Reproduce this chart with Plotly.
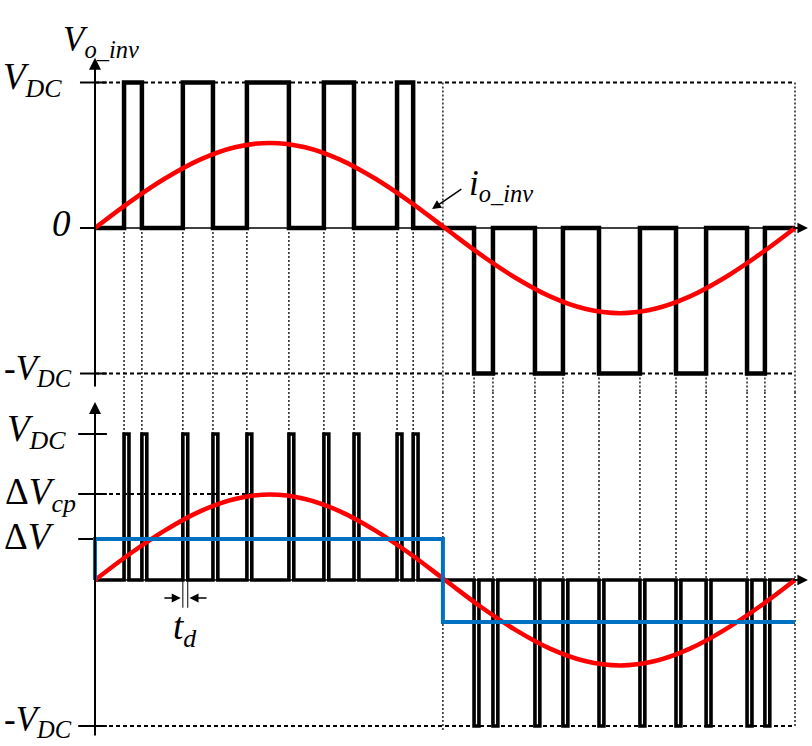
import plotly.graph_objects as go

# ---------------- data (time in ms over one 20 ms period, voltages in p.u. of V_DC) ----------------
t_end = 20.0
t_half = 9.94
pos_edges = [0.83, 1.34, 2.51, 3.37, 4.34, 5.54, 6.54, 7.40, 8.63, 9.09]
pos_levels = [1, 0, 1, 0, 1, 0, 1, 0, 1, 0]
neg_edges = [10.83, 11.37, 12.57, 13.37, 14.40, 15.57, 16.60, 17.46, 18.63, 19.14]
neg_levels = [-1, 0, -1, 0, -1, 0, -1, 0, -1, 0]
td = 0.14
VDC = 1.0
dV_cp = 0.589
dV_pos = 0.281
dV_neg = -0.288
i_t = [0, 1, 2, 3, 4, 5, 6, 7, 8, 9, 10, 11, 12, 13, 14, 15, 16, 17, 18, 19, 20]
i_v = [0, 0.18, 0.34, 0.47, 0.555, 0.585, 0.555, 0.47, 0.34, 0.18, 0,
       -0.18, -0.34, -0.47, -0.555, -0.585, -0.555, -0.47, -0.34, -0.18, 0]

# ---------------- layout constants ----------------
W, H = 812, 746
X_RANGE = [-2.7143, 20.4857]
TOP_DOMAIN = [0.47453, 1.0]
BOT_DOMAIN = [0.0, 0.47453]
TOP_RANGE = [-1.127, 1.567]
BOT_RANGE = [-1.137, 1.2877]
FONT = "Liberation Serif, Times New Roman, serif"
BLACK = "#000000"
RED = "#ff0000"
BLUE = "#0070c0"

fig = go.Figure()

def add_line(x, y, yaxis, color=BLACK, width=2, dash="solid", shape="linear"):
    fig.add_trace(go.Scatter(x=x, y=y, yaxis=yaxis, mode="lines",
                             line=dict(color=color, width=width, dash=dash, shape=shape),
                             hoverinfo="skip", showlegend=False))

def segs(pairs):
    xs, ys = [], []
    for (xa, ya, xb, yb) in pairs:
        xs += [xa, xb, None]
        ys += [ya, yb, None]
    return xs, ys

# ---- vertical dotted guide lines ----
top_pairs, bot_pairs = [], []
for t in pos_edges:
    top_pairs.append((t, 0, t, TOP_RANGE[0]))
    bot_pairs.append((t, BOT_RANGE[1], t, VDC))
for t in neg_edges:
    top_pairs.append((t, -VDC, t, TOP_RANGE[0]))
    bot_pairs.append((t, BOT_RANGE[1], t, 0))
for t in [t_half, t_end]:
    top_pairs.append((t, VDC, t, TOP_RANGE[0]))
bot_pairs.append((t_half, BOT_RANGE[1], t_half, -1.03))
bot_pairs.append((t_end, BOT_RANGE[1], t_end, -VDC))
xs, ys = segs(top_pairs)
add_line(xs, ys, "y", width=1.3, dash="2px,2px")
xs, ys = segs(bot_pairs)
add_line(xs, ys, "y2", width=1.3, dash="2px,2px")

# ---- horizontal dashed reference lines ----
xs, ys = segs([(0, VDC, t_end, VDC), (0, -VDC, t_end, -VDC)])
add_line(xs, ys, "y", width=2, dash="4px,3px")
xs, ys = segs([(0, dV_cp, 5.1, dV_cp), (0, -VDC, t_end, -VDC)])
add_line(xs, ys, "y2", width=2, dash="4px,3px")

# ---- tick marks ----
xs, ys = segs([(-0.43, v, 0.34, v) for v in [VDC, 0, -VDC]])
add_line(xs, ys, "y", width=2)
xs, ys = segs([(-0.48, v, 0.34, v) for v in [VDC, dV_cp, dV_pos, -VDC]])
add_line(xs, ys, "y2", width=2)

# ---- x axes ----
xs, ys = segs([(0, 0, 20.2, 0)])
add_line(xs, ys, "y", width=1.5)
add_line(xs, ys, "y2", width=1.5)

# ---- top: inverter output voltage (3-level PWM) ----
top_x = [0] + pos_edges + neg_edges + [t_end]
top_y = [0] + pos_levels + neg_levels + [0]
add_line(top_x, top_y, "y", width=4.5, shape="hv")

# ---- bottom: narrow pulses of width td ----
bx, by = [0], [0]
for t in pos_edges:
    bx += [t, t + td]
    by += [VDC, 0]
for t in neg_edges:
    bx += [t, t + td]
    by += [-VDC, 0]
bx.append(t_end)
by.append(0)
add_line(bx, by, "y2", width=3.6, shape="hv")

# td dimension extension lines
xs, ys = segs([(pos_edges[2], 0, pos_edges[2], -0.19),
               (pos_edges[2] + td, 0, pos_edges[2] + td, -0.19)])
add_line(xs, ys, "y2", width=1)

# ---- currents ----
add_line(i_t, i_v, "y", color=RED, width=4.5, shape="spline")
add_line(i_t, i_v, "y2", color=RED, width=4.5, shape="spline")

# ---- blue capacitor voltage ----
add_line([0, 0, t_half, t_half, t_end], [0, dV_pos, dV_pos, dV_neg, dV_neg], "y2",
         color=BLUE, width=4)

# ---------------- annotations ----------------
ann = []
def arrow(x, y, ax, ay, yref, width=2, size=1.2):
    ann.append(dict(x=x, y=y, ax=ax, ay=ay, xref="x", yref=yref, axref="x", ayref=yref,
                    text="", showarrow=True, arrowhead=2, arrowsize=size,
                    arrowwidth=width, arrowcolor=BLACK, standoff=0, startstandoff=0))

# y axes with arrow heads, x axis arrow heads
arrow(0, 1.17, 0, -1.10, "y")
arrow(0, 1.22, 0, -1.075, "y2")
arrow(20.37, 0, 19.9, 0, "y", width=1.5, size=1.4)
arrow(20.37, 0, 19.9, 0, "y2", width=1.5, size=1.4)
# current label arrow
arrow(9.63, 0.13, 10.51, 0.275, "y", width=1.5, size=1.2)
# td arrows
arrow(2.45, -0.123, 1.94, -0.123, "y2", width=1.5, size=1.2)
arrow(2.70, -0.123, 3.23, -0.123, "y2", width=1.5, size=1.2)

def label(text, x, y, yref, xanchor="right", size=37):
    ann.append(dict(x=x, y=y, xref="x", yref=yref, text=text, showarrow=False,
                    xanchor=xanchor, yanchor="middle",
                    font=dict(family=FONT, size=size, color=BLACK)))

label("<i>V</i><sub><i>o_inv</i></sub>", -0.97, 1.28, "y", xanchor="left", size=35)
label("<i>V</i><sub><i>DC</i></sub>", -0.88, VDC + 0.02, "y")
label("<i>0</i>", -0.62, 0.03, "y")
label("-<i>V</i><sub><i>DC</i></sub>", -0.6, -VDC + 0.02, "y", size=35)
label("<i>i</i><sub><i>o_inv</i></sub>", 10.62, 0.29, "y", xanchor="left", size=35)

label("<i>V</i><sub><i>DC</i></sub>", -0.78, VDC + 0.02, "y2")
label("Δ<i>V</i><sub><i>cp</i></sub>", -0.5, dV_cp, "y2")
label("Δ<i>V</i>", -1.1, dV_pos + 0.02, "y2")
label("-<i>V</i><sub><i>DC</i></sub>", -0.6, -VDC + 0.03, "y2", size=35)
label("<i>t</i><sub><i>d</i></sub>", 2.57, -0.34, "y2", xanchor="center")

fig.update_layout(
    width=W, height=H, autosize=False,
    margin=dict(l=0, r=0, t=0, b=0, pad=0),
    paper_bgcolor="white", plot_bgcolor="white",
    showlegend=False,
    xaxis=dict(range=X_RANGE, visible=False, fixedrange=True),
    yaxis=dict(domain=TOP_DOMAIN, range=TOP_RANGE, visible=False, fixedrange=True),
    yaxis2=dict(domain=BOT_DOMAIN, range=BOT_RANGE, visible=False, fixedrange=True, anchor="x"),
    annotations=ann,
)

fig.write_html("out.html", config={"displayModeBar": False},
               post_script="document.body.style.margin='0';document.body.style.padding='0';")
